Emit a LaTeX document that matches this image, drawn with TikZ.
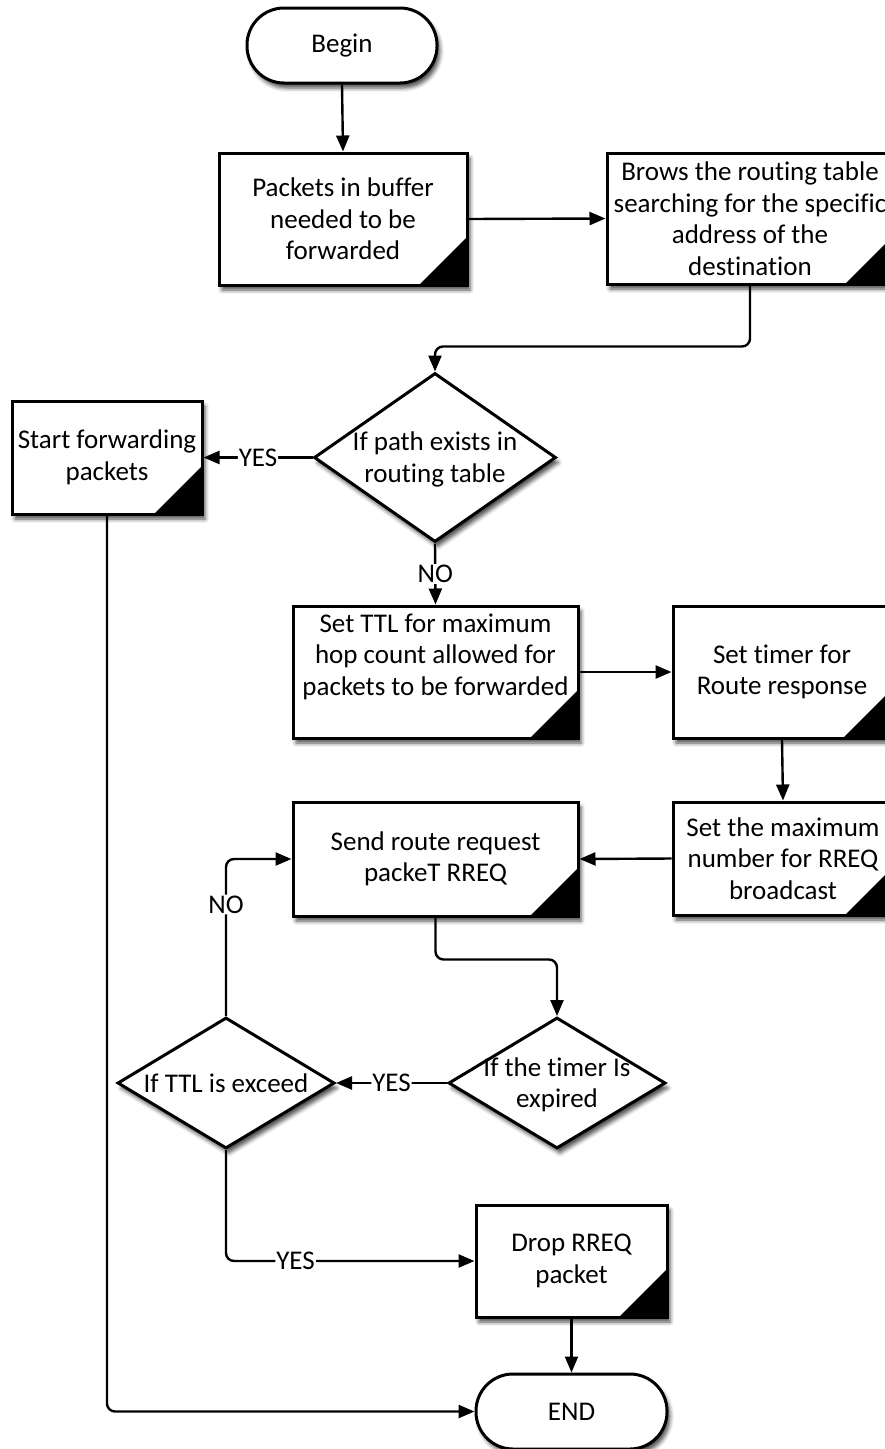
\documentclass[tikz,border=0pt]{standalone}
\usepackage{fontspec}
\setmainfont{Carlito}[Ligatures=NoCommon]
\usetikzlibrary{shapes.geometric,arrows.meta,shadows.blur}

% text of a decision, kept out of the diamond's size
\newcommand{\dtext}[1]{\smash{\makebox[0pt]{\raisebox{-9pt}{\begin{tabular}{@{}c@{}}#1\end{tabular}}}}}

\tikzset{
    base/.style={draw=black, line width=3pt, fill=white, align=center, inner sep=2pt,
        font=\fontsize{27}{31.5}\selectfont,
        blur shadow={shadow xshift=3pt, shadow yshift=-5pt, shadow blur radius=4pt, shadow opacity=70}},
    procbox/.style={base, rectangle,
        path picture={\fill[black] (path picture bounding box.south east) -- ++(-48pt,0pt) -- ++(48pt,48pt) -- cycle;}},
    termbox/.style={base, rectangle, rounded corners=37pt, minimum width=190pt, minimum height=75pt},
    decbox/.style={base, diamond, inner sep=0pt},
    arr/.style={line width=2.4pt, -{Triangle[length=16pt,width=13pt]}, rounded corners=8pt},
    lbl/.style={fill=white, inner sep=1pt, font=\fontsize{27}{31.5}\selectfont},
}

\begin{document}
\begin{tikzpicture}[x=1pt, y=-1pt]
    \clip (0,0) rectangle (885,1449);
    % Nodes
    \node [termbox] (begin) at (342, 45.5) {Begin};
    \node [procbox, minimum width=248, minimum height=132] (buffer) at (343, 219) {Packets in buffer\\needed to be\\forwarded};
    \node [procbox, minimum width=286, minimum height=131] (brows) at (750, 218.5) {Brows the routing table\\searching for the specific\\address of the\\destination};
    \node [decbox, minimum width=242, minimum height=169] (pathq) at (435, 457.5) {\dtext{If path exists in\\routing table}};
    \node [procbox, minimum width=190, minimum height=113] (startfwd) at (107, 457.5) {Start forwarding\\packets};
    \node [procbox, minimum width=285, minimum height=132] (setttl) at (435.5, 672) {Set TTL for maximum\\hop count allowed for\\packets to be forwarded\rule[-35pt]{0pt}{1pt}};
    \node [procbox, minimum width=218, minimum height=132] (settimer) at (782, 672) {Set timer for\\Route response};
    \node [procbox, minimum width=220, minimum height=113] (setmax) at (783, 858.5) {Set the maximum\\number for RREQ\\broadcast};
    \node [procbox, minimum width=285, minimum height=114] (sendreq) at (435.5, 859) {Send route request\\packeT RREQ};
    \node [decbox, minimum width=217, minimum height=131] (timerq) at (557, 1083) {\dtext{If the timer Is\\expired}};
    \node [decbox, minimum width=217, minimum height=131] (ttlq) at (226, 1083) {\dtext{If TTL is exceed}};
    \node [procbox, minimum width=191, minimum height=112] (drop) at (571.5, 1261) {Drop RREQ\\packet};
    \node [termbox, minimum width=191] (endn) at (571.5, 1411.5) {END};

    % Connectors
    \draw [arr] (begin.south) -- (buffer.north);
    \draw [arr] (buffer.east) -- (brows.west);
    \draw [arr] (brows.south) -- ++(0, 61) -| (pathq.north);
    \draw [arr] (pathq.west) -- node [lbl] (yes1) {YES} (startfwd.east);
    \draw [arr] (pathq.south) -- node [lbl] (no1) {NO} (setttl.north);
    \draw [arr] (setttl.east) -- (settimer.west);
    \draw [arr] (settimer.south) -- (setmax.north);
    \draw [arr] (setmax.west) -- (sendreq.east);
    \draw [arr] (sendreq.south) -- ++(0, 42) -| (timerq.north);
    \draw [arr] (timerq.west) -- node [lbl] (yes2) {YES} (ttlq.east);
    \draw [arr] (ttlq.north) |- node [lbl, pos=0.355] (no2) {NO} (sendreq.west);
    \draw [arr] (ttlq.south) |- node [lbl, pos=0.64] (yes3) {YES} (drop.west);
    \draw [arr] (drop.south) -- (endn.north);
    \draw [arr] (startfwd.south) |- (endn.west);
\end{tikzpicture}
\end{document}
